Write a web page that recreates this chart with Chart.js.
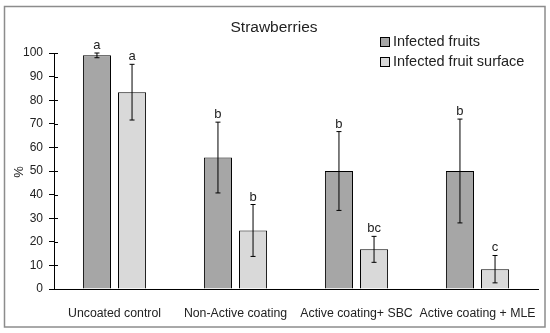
<!DOCTYPE html>
<html>
<head>
<meta charset="utf-8">
<script src="https://cdn.jsdelivr.net/npm/chart.js@4"></script>
<style>
  body { margin: 0; background: #fff; }
  #wrap { width: 550px; height: 333px; }
</style>
</head>
<body>
<div id="wrap"><canvas id="chart" width="550" height="333"></canvas></div>
<script>
const categories = ['Uncoated control', 'Non-Active coating', 'Active coating+ SBC', 'Active coating + MLE'];
const infectedFruits = [99, 55.7, 50, 50];
const infectedSurface = [83.4, 24.8, 16.8, 8.4];
const errFruits = [1, 15, 16.7, 22];
const errSurface = [11.8, 11, 5.5, 5.8];
const lettersFruits = ['a', 'b', 'b', 'b'];
const lettersSurface = ['a', 'b', 'bc', 'c'];
const yTicks = [0, 10, 20, 30, 40, 50, 60, 70, 80, 90, 100];

const FONT = '"Liberation Sans", Arial, sans-serif';

// error bars, letters, title, legend, border
const extras = {
  id: 'extras',
  beforeDraw(chart) {
    const c = chart.ctx;
    c.save();
    c.fillStyle = '#fff';
    c.fillRect(0, 0, chart.width, chart.height);
    c.strokeStyle = '#8c8c8c';
    c.lineWidth = 1.5;
    c.strokeRect(4.5, 6.5, 540.5, 320.5);
    c.restore();
  },
  afterDatasetsDraw(chart) {
    const c = chart.ctx;
    const y = chart.scales.y;
    const errs = [errFruits, errSurface];
    const letters = [lettersFruits, lettersSurface];
    c.save();
    chart.data.datasets.forEach((ds, di) => {
      chart.getDatasetMeta(di).data.forEach((bar, i) => {
        const v = ds.data[i];
        const top = y.getPixelForValue(v + errs[di][i]);
        const bot = y.getPixelForValue(v - errs[di][i]);
        c.strokeStyle = '#000';
        c.lineWidth = 1;
        c.beginPath();
        c.moveTo(bar.x, top); c.lineTo(bar.x, bot);
        c.moveTo(bar.x - 2.5, top); c.lineTo(bar.x + 2.5, top);
        c.moveTo(bar.x - 2.5, bot); c.lineTo(bar.x + 2.5, bot);
        c.stroke();
        c.fillStyle = '#222';
        c.font = '13px ' + FONT;
        c.textAlign = 'center';
        c.textBaseline = 'alphabetic';
        c.fillText(letters[di][i], bar.x, top - 4);
      });
    });
    // inward half of the y ticks
    const xa = chart.scales.x.left;
    c.strokeStyle = '#000';
    c.lineWidth = 1;
    yTicks.forEach(t => {
      const py = Math.round(y.getPixelForValue(t)) + 0.5;
      c.beginPath();
      c.moveTo(xa, py); c.lineTo(xa + 4, py);
      c.stroke();
    });
    // title
    c.fillStyle = '#222';
    c.font = '15.5px ' + FONT;
    c.textAlign = 'center';
    c.textBaseline = 'middle';
    c.fillText('Strawberries', 274, 28);
    // legend
    const items = [['Infected fruits', '#a6a6a6'], ['Infected fruit surface', '#d9d9d9']];
    c.font = '14.5px ' + FONT;
    c.textAlign = 'left';
    items.forEach((it, k) => {
      const ly = 42 + k * 20;
      c.fillStyle = it[1];
      c.fillRect(380.5, ly - 4.5, 9, 9);
      c.strokeStyle = '#000';
      c.strokeRect(380.5, ly - 4.5, 9, 9);
      c.fillStyle = '#222';
      c.fillText(it[0], 393, ly);
    });
    // axis title
    c.save();
    c.translate(19, 172);
    c.rotate(-Math.PI / 2);
    c.font = '13px ' + FONT;
    c.textAlign = 'center';
    c.textBaseline = 'middle';
    c.fillText('%', 0, 0);
    c.restore();
    c.restore();
  }
};

new Chart(document.getElementById('chart'), {
  type: 'bar',
  data: {
    labels: categories,
    datasets: [
      { label: 'Infected fruits', data: infectedFruits, backgroundColor: '#a6a6a6',
        borderColor: '#000', borderWidth: 1, clip: false },
      { label: 'Infected fruit surface', data: infectedSurface, backgroundColor: '#d9d9d9',
        borderColor: '#000', borderWidth: 1, clip: false }
    ]
  },
  options: {
    responsive: false,
    animation: false,
    categoryPercentage: 0.58,
    barPercentage: 0.8,
    layout: { padding: { left: 0, right: 12, top: 53, bottom: 0 } },
    scales: {
      y: {
        min: 0,
        max: 100,
        afterFit(s) { s.width = 54; },
        afterBuildTicks(s) { s.ticks = yTicks.map(v => ({ value: v })); },
        ticks: { color: '#222', padding: 6, font: { family: FONT, size: 12 } },
        grid: { drawOnChartArea: false, drawTicks: true, tickLength: 5, color: '#000' },
        border: { display: true, color: '#000' }
      },
      x: {
        afterFit(s) { s.height = 44; },
        ticks: { color: '#222', padding: 9, maxRotation: 0, minRotation: 0, autoSkip: false,
                 font: { family: FONT, size: 12.3 } },
        grid: { display: false },
        border: { display: true, color: '#000' }
      }
    },
    plugins: {
      legend: { display: false },
      tooltip: { enabled: false }
    }
  },
  plugins: [extras]
});
</script>
</body>
</html>
